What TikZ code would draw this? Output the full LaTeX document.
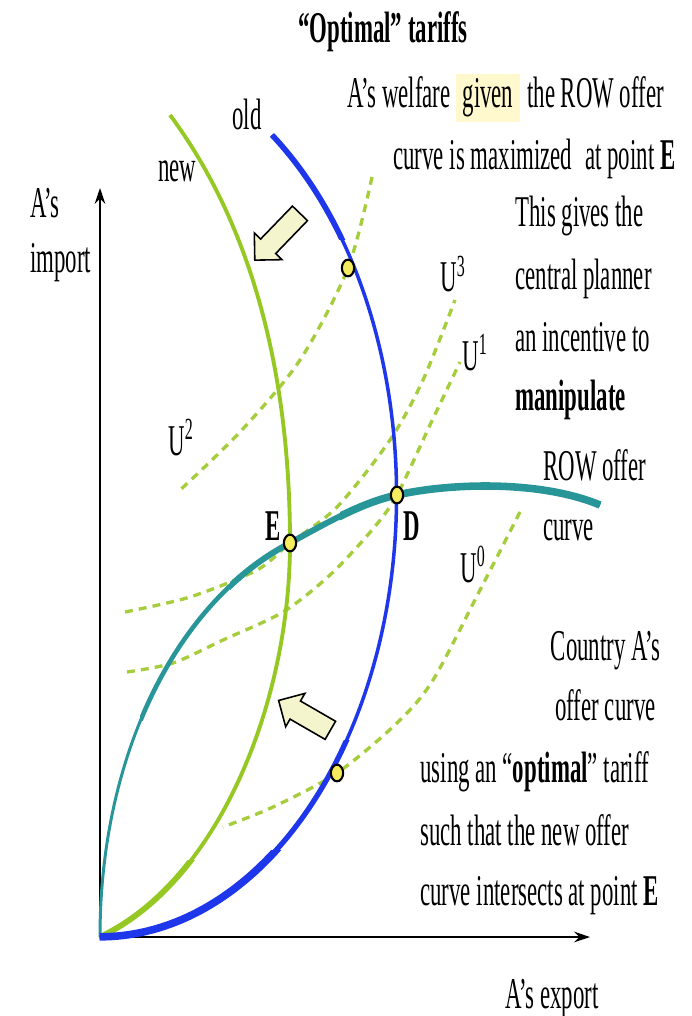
\documentclass[tikz,border=0pt]{standalone}
\usepackage{fontspec}
\setmainfont[FakeStretch=0.52]{Liberation Serif}
\usetikzlibrary{positioning,shapes.geometric,shapes.arrows,arrows.meta}
\definecolor{oldblue}{RGB}{30,55,235}
\definecolor{newgreen}{RGB}{150,200,35}
\definecolor{rowteal}{RGB}{40,150,152}
\definecolor{ugreen}{RGB}{165,205,60}
\definecolor{dotyellow}{RGB}{245,235,95}
\definecolor{shiftfill}{RGB}{245,245,205}
\definecolor{hilite}{RGB}{255,249,205}
\def\oldpath{(oldtop) arc[start angle=-54.5, end angle=90, x radius=297, y radius=442]}
\def\newpath{(newtop) .. controls (270,250) and (290,420) .. (E) .. controls (290,700) and (220,880) .. (O)}
\def\rowpath{(O) .. controls (100,750) and (180,600) .. (E) .. controls (335,518) and (365,502) .. (D) .. controls (450,483) and (540,480) .. (rowend)}
\begin{document}
\begin{tikzpicture}[x=0.02cm,y=-0.02cm,
  txt/.style={font=\fontsize{25}{28}\selectfont, inner sep=0pt, anchor=base west},
  dot/.style={draw, ellipse, fill=dotyellow, line width=1.2pt, minimum width=7pt, minimum height=9.5pt, inner sep=0pt},
  ucrv/.style={ugreen, line width=1.9pt, dash pattern=on 4.5pt off 3.5pt},
  shiftarrow/.style={draw, single arrow, fill=shiftfill, line width=0.9pt, minimum width=21pt, inner xsep=0pt, inner ysep=5.5pt, single arrow head extend=5pt}]

\useasboundingbox (0,0) rectangle (691,1016);

% key points
\coordinate (O) at (100,937);
\coordinate (yend) at (100,188);
\coordinate (xend) at (590,937);
\coordinate (E) at (290,543);
\coordinate (D) at (397,495);
\coordinate (P2) at (348,268);
\coordinate (P0) at (337,773);
\coordinate (oldtop) at (272,135);
\coordinate (newtop) at (170,115);
\coordinate (rowend) at (600,505);

% indifference curves
\draw[ucrv] plot[smooth] coordinates {(372,177) (P2) (300,360) (240,432) (178,492)};
\draw[ucrv] plot[smooth] coordinates {(125,612) (190,597) (257,570) (E) (337,507) (390,440) (423,380) (455,300)};
\draw[ucrv] plot[smooth] coordinates {(127,672) (173,663) (223,640) (283,612) (330,575) (372,530) (D) (430,425) (460,362)};
\draw[ucrv] plot[smooth] coordinates {(520,512) (480,590) (433,680) (397,723) (P0) (273,807) (223,827)};

% axes
\draw[-{Stealth[length=9pt,width=6pt]}, line width=1.1pt] (O) -- (yend);
\draw[-{Stealth[length=9pt,width=6pt]}, line width=1.1pt] (O) -- (xend);

% ROW offer curve
\draw[rowteal, line width=1.7pt] \rowpath;
\begin{scope}
\clip (140,0) rectangle (691,720);
\draw[rowteal, line width=2.6pt] \rowpath;
\end{scope}
\begin{scope}
\clip (230,0) rectangle (691,720);
\draw[rowteal, line width=3.4pt] \rowpath;
\end{scope}
\begin{scope}
\clip (340,0) rectangle (691,720);
\draw[rowteal, line width=4.3pt] \rowpath;
\end{scope}

% new offer curve
\draw[newgreen, line width=2.2pt] \newpath;
\begin{scope}
\clip (0,860) rectangle (691,1016);
\draw[newgreen, line width=3.3pt] \newpath;
\end{scope}

% old offer curve
\draw[oldblue, line width=2pt] \oldpath;
\begin{scope}
\clip (0,0) rectangle (691,240);
\draw[oldblue, line width=3.2pt] \oldpath;
\end{scope}
\begin{scope}
\clip (0,740) rectangle (691,1016);
\draw[oldblue, line width=3pt] \oldpath;
\end{scope}
\begin{scope}
\clip (0,850) rectangle (691,1016);
\draw[oldblue, line width=4.3pt] \oldpath;
\end{scope}

% shift arrows
\node[shiftarrow, minimum height=37pt, rotate=226] (shiftup) at (281,233) {};
\node[shiftarrow, minimum height=34pt, rotate=150] (shiftdown) at (309,718) {};

% points
\node[dot] (dotP2) at (P2) {};
\node[dot] (dotE) at (E) {};
\node[dot] (dotD) at (D) {};
\node[dot] (dotP0) at (P0) {};

% labels
\node[txt] (title) at (298,43) {\bfseries “Optimal” tariffs};
\node[txt, anchor=base, fill=hilite, minimum height=27pt, inner xsep=4pt] (given) at (488,108) {given};
\node[txt, anchor=base east] (welfare) at (451,108) {A’s welfare};
\node[txt] (rowoffer) at (527,108) {the ROW offer};
\node[txt] (maxed) at (393,170) {curve is maximized\, at point \textbf{E}};
\node[txt] (old) at (232,130) {old};
\node[txt] (new) at (158,182) {new};
\node[txt] (yl1) at (30,218) {A’s};
\node[txt] (yl2) at (30,273) {import};
\node[txt] (gives1) at (515,227) {This gives the};
\node[txt] (gives2) at (515,290) {central planner};
\node[txt] (gives3) at (515,352) {an incentive to};
\node[txt] (gives4) at (515,410) {\bfseries manipulate};
\node[txt] (u3) at (440,292) {U\textsuperscript{3}};
\node[txt] (u1) at (462,370) {U\textsuperscript{1}};
\node[txt] (u2) at (168,455) {U\textsuperscript{2}};
\node[txt] (u0) at (460,582) {U\textsuperscript{0}};
\node[txt] (row1) at (543,480) {ROW offer};
\node[txt] (row2) at (543,540) {curve};
\node[txt, anchor=base east] (lblE) at (281,540) {\bfseries E};
\node[txt] (lblD) at (403,540) {\bfseries D};
\node[txt, anchor=base east] (ca1) at (661,660) {Country A’s};
\node[txt, anchor=base east] (ca2) at (656,720) {offer curve};
\node[txt] (ca3) at (420,782) {using an “\textbf{optimal}” tariff};
\node[txt] (ca4) at (420,845) {such that the new offer};
\node[txt] (ca5) at (420,905) {curve intersects at point \textbf{E}};
\node[txt] (xl) at (505,1008) {A’s export};
\end{tikzpicture}
\end{document}
